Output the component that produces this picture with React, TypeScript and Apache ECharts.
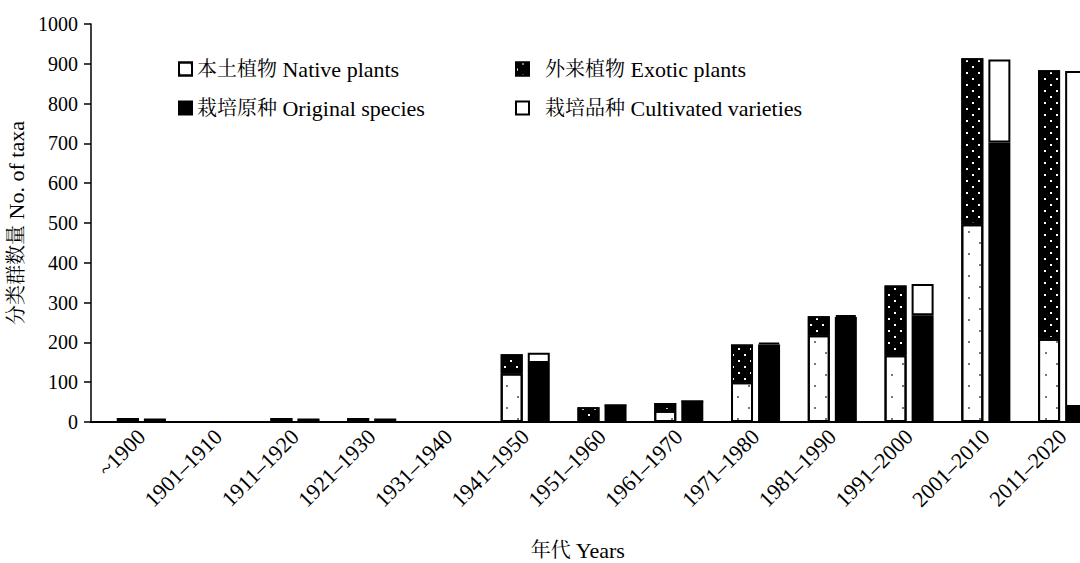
import React, { useEffect, useRef } from "react";
import * as echarts from "echarts";

const categories = [
  "~1900", "1901–1910", "1911–1920", "1921–1930", "1931–1940", "1941–1950",
  "1951–1960", "1961–1970", "1971–1980", "1981–1990", "1991–2000", "2001–2010", "2011–2020",
];
const nativePlants = [0, 0, 2, 2, 0, 122, 10, 28, 100, 218, 168, 497, 209];
const exoticPlants = [10, 0, 8, 8, 0, 48, 27, 20, 95, 48, 175, 417, 675];
const originalSpecies = [6, 0, 6, 6, 0, 148, 42, 52, 195, 264, 268, 702, 38];
const cultivatedVarieties = [0, 0, 0, 0, 0, 26, 0, 0, 4, 5, 79, 209, 844];
const yTicks = [0, 100, 200, 300, 400, 500, 600, 700, 800, 900, 1000];

const FONT = "'Liberation Serif', 'Times New Roman', 'Noto Serif CJK SC', 'Noto Sans CJK SC', serif";

const splitName = (name: string) => {
  const i = name.indexOf(" ");
  return `{c|${name.slice(0, i)}}{e|${name.slice(i)}}`;
};

export default function App() {
  const ref = useRef<HTMLDivElement>(null);
  useEffect(() => {
    document.body.style.margin = "0";
    const chart = echarts.init(ref.current!, undefined, { renderer: "svg" });
    const barBase = {
      type: "bar" as const,
      barWidth: 22,
      barGap: "23%",
    };
    const rich = {
      c: { fontFamily: FONT, fontSize: 20, color: "#000" },
      e: { fontFamily: FONT, fontSize: 22, color: "#000" },
    };
    const legendBase = {
      orient: "vertical" as const,
      top: 53,
      itemWidth: 13,
      itemHeight: 13,
      itemGap: 17,
      icon: "rect",
      formatter: splitName,
    };
    chart.setOption({
      animation: false,
      backgroundColor: "#fff",
      textStyle: { fontFamily: FONT, color: "#000" },
      grid: { left: 103, top: 24, width: 998, height: 398, containLabel: false, outerBoundsMode: "none" },
      legend: [
        {
          ...legendBase,
          data: ["本土植物 Native plants", "栽培原种 Original species"],
          left: 173,
          textStyle: { fontFamily: FONT, fontSize: 20, color: "#000", rich },
        },
        {
          ...legendBase,
          data: ["外来植物 Exotic plants", "栽培品种 Cultivated varieties"],
          left: 510,
          textStyle: { fontFamily: FONT, fontSize: 20, color: "#000", padding: [0, 0, 0, 11], rich },
        },
      ],
      xAxis: {
        type: "category",
        data: categories,
        name: "{c|年代}{e| Years}",
        nameLocation: "middle",
        nameGap: 117,
        nameTextStyle: { fontFamily: FONT, fontSize: 21, color: "#000", padding: [0, 48, 0, 0], rich },
        axisLine: { lineStyle: { color: "#000", width: 2 } },
        axisTick: { show: false },
        axisLabel: { interval: 0, rotate: 45, fontFamily: FONT, fontSize: 22, color: "#000", margin: 11 },
        splitLine: { show: false },
      },
      yAxis: {
        type: "value",
        min: 0,
        max: 1000,
        interval: 100,
        offset: 12,
        name: "{c|分类群数量}{e| No. of taxa}",
        nameLocation: "middle",
        nameGap: 45,
        nameTextStyle: { fontFamily: FONT, fontSize: 21, color: "#000", rich },
        axisLine: { show: true, lineStyle: { color: "#000", width: 1.5 } },
        axisTick: { show: true, length: 7, lineStyle: { color: "#000", width: 1.5 } },
        axisLabel: {
          fontFamily: FONT,
          fontSize: 20,
          color: "#000",
          margin: 13,
          formatter: (v: number) => (yTicks.includes(v) ? String(v) : ""),
        },
        splitLine: { show: false },
      },
      graphic: [
        {
          type: "line",
          shape: { x1: 90, y1: 422, x2: 104, y2: 422 },
          style: { stroke: "#000", lineWidth: 2 },
          silent: true,
        },
      ],
      series: [
        {
          ...barBase,
          name: "本土植物 Native plants",
          stack: "origin",
          data: nativePlants,
          itemStyle: {
            color: "#fff",
            borderColor: "#000",
            borderWidth: 2,
            decal: {
              symbol: "rect",
              symbolSize: 1,
              color: "#777",
              dashArrayX: [[2, 20], [0, 11, 2, 9]],
              dashArrayY: [2, 9],
            },
          },
        },
        {
          ...barBase,
          name: "外来植物 Exotic plants",
          stack: "origin",
          data: exoticPlants,
          itemStyle: {
            color: "#000",
            borderColor: "#000",
            borderWidth: 2,
            decal: {
              symbol: "rect",
              symbolSize: 1,
              color: "#fff",
              dashArrayX: [[2, 10], [0, 6, 2, 4]],
              dashArrayY: [2, 4],
            },
          },
        },
        {
          ...barBase,
          name: "栽培原种 Original species",
          stack: "cultivation",
          data: originalSpecies,
          itemStyle: { color: "#000", borderColor: "#000", borderWidth: 2 },
        },
        {
          ...barBase,
          name: "栽培品种 Cultivated varieties",
          stack: "cultivation",
          data: cultivatedVarieties,
          itemStyle: { color: "#fff", borderColor: "#000", borderWidth: 2 },
        },
      ],
    });
    return () => chart.dispose();
  }, []);
  return <div ref={ref} style={{ width: 1080, height: 563 }} />;
}
